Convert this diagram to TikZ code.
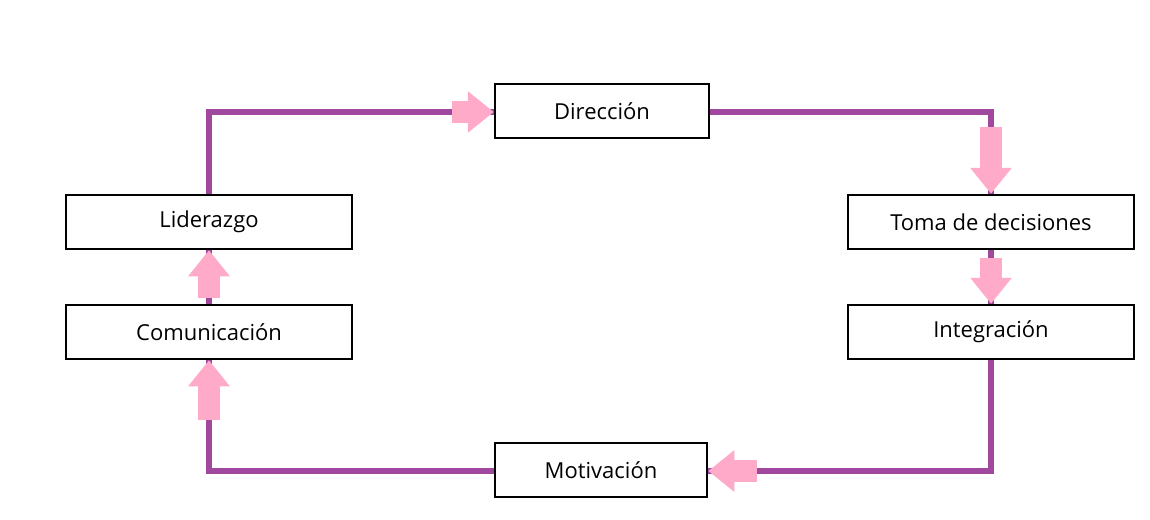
\documentclass[tikz,border=0pt]{standalone}
\usepackage{fontspec}
\setmainfont{Open Sans}
\usetikzlibrary{arrows.meta,positioning,calc}
\definecolor{linepurple}{RGB}{160,72,160}
\definecolor{arrowpink}{RGB}{255,170,200}
\tikzset{
  stage/.style={draw=black,line width=2.5pt,minimum width=286pt,minimum height=54pt,font=\fontsize{22}{26}\selectfont},
  link/.style={draw=linepurple,line width=6pt},
  pinkarrow/.style={draw=arrowpink,line width=22pt,-{Triangle[width=40pt,length=26pt]}}
}
\begin{document}
\begin{tikzpicture}[x=1pt,y=-1pt]
  \useasboundingbox (0,0) rectangle (1150,519);

  \node [stage,minimum width=214pt] (dir) at (602,111) {Dirección};
  \node [stage] (toma) at (991,222) {Toma de decisiones};
  \node [stage] (integ) at (991,332) {Integración};
  \node [stage,minimum width=212pt] (motiv) at (601,470) {Motivación};
  \node [stage] (comun) at (209,332) {Comunicación};
  \node [stage] (lider) at (209,222) {Liderazgo};

  % purple connectors
  \draw[link] (lider.north) |- ($(dir.west)+(0,1)$);
  \draw[link] ($(dir.east)+(0,1)$) -| (toma.north);
  \draw[link] (toma.south) -- (integ.north);
  \draw[link] (integ.south) |- ($(motiv.east)+(0,1)$);
  \draw[link] ($(motiv.west)+(0,1)$) -| (comun.south);
  \draw[link] (comun.north) -- (lider.south);

  % pink block arrows
  \coordinate (a1) at (452,112);
  \coordinate (a2) at (991,127);
  \coordinate (a3) at (991,258);
  \coordinate (a4) at (757,471);
  \coordinate (a5) at (209,420);
  \coordinate (a6) at (209,298);
  \draw[pinkarrow] (a1) -- ($(dir.west)+(0,1)$);
  \draw[pinkarrow] (a2) -- (toma.north);
  \draw[pinkarrow] (a3) -- (integ.north);
  \draw[pinkarrow] (a4) -- ($(motiv.east)+(0,1)$);
  \draw[pinkarrow] (a5) -- (comun.south);
  \draw[pinkarrow] (a6) -- (lider.south);
\end{tikzpicture}
\end{document}
